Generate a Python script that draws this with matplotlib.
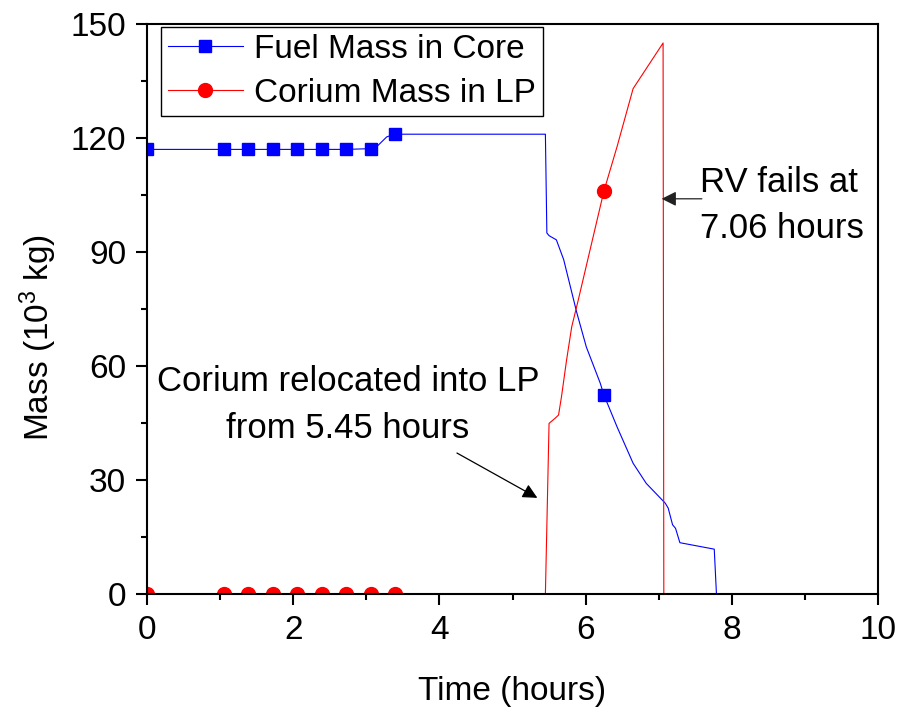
import numpy as np
import matplotlib
matplotlib.use("Agg")
import matplotlib.pyplot as plt
from matplotlib.ticker import MultipleLocator

# -----------------------------------------------------------------------------
# Data (time in hours, mass in 10^3 kg)
# -----------------------------------------------------------------------------

fuel_time = [0, 1.05, 1.38, 1.72, 2.05, 2.39, 2.72, 3.06, 3.12, 3.20, 3.28, 3.39,
             5.45, 5.47, 5.50, 5.60, 5.70, 5.88, 6.01, 6.20, 6.25, 6.43, 6.65,
             6.83, 7.09, 7.13, 7.19, 7.23, 7.29, 7.76, 7.79, 10]
fuel_mass = [117, 117, 117, 117, 117, 117, 117, 117.2, 117.3, 118.8, 120.3, 121,
             121, 95, 94.3, 93.2, 88, 74, 65, 55.5, 52.4, 44, 34.4,
             29.1, 23.9, 22.6, 18.2, 17.3, 13.5, 11.8, 0, 0]

corium_time = [0, 1.05, 1.38, 1.72, 2.05, 2.39, 2.72, 3.06, 3.39,
               5.45, 5.50, 5.58, 5.63, 5.67, 5.74, 5.81, 5.90, 6.25, 6.43,
               6.65, 7.06, 7.07, 10]
corium_mass = [0, 0, 0, 0, 0, 0, 0, 0, 0,
               0, 44.9, 46.2, 47.1, 51.9, 61.6, 70.3, 77.4, 106, 117.7,
               133, 145, 0, 0]

# Times where the symbols sit
fuel_marker_time = [0, 1.05, 1.38, 1.72, 2.05, 2.39, 2.72, 3.06, 3.39, 6.25]
corium_marker_time = [0, 1.05, 1.38, 1.72, 2.05, 2.39, 2.72, 3.06, 3.39, 6.25]

fuel_every = list(np.where(np.isin(fuel_time, fuel_marker_time))[0])
corium_every = list(np.where(np.isin(corium_time, corium_marker_time))[0])

# -----------------------------------------------------------------------------
# Figure
# -----------------------------------------------------------------------------

plt.rcParams["font.family"] = ["Liberation Sans", "DejaVu Sans"]
plt.rcParams["mathtext.fontset"] = "custom"
plt.rcParams["mathtext.rm"] = "Liberation Sans"
plt.rcParams["mathtext.it"] = "Liberation Sans"

fig = plt.figure(figsize=(9.13, 7.08), dpi=100)
ax = fig.add_axes([147 / 913, 114 / 708, 731 / 913, 570 / 708])

ax.plot(fuel_time, fuel_mass, color="#0000ff", lw=0.8, marker="s", ms=9,
        markevery=fuel_every, label="Fuel Mass in Core")
ax.plot(corium_time, corium_mass, color="#ff0000", lw=0.8, marker="o", ms=10,
        markevery=corium_every, label="Corium Mass in LP")

ax.set_xlim(0, 10)
ax.set_ylim(0, 150)
ax.xaxis.set_major_locator(MultipleLocator(2))
ax.xaxis.set_minor_locator(MultipleLocator(1))
ax.yaxis.set_major_locator(MultipleLocator(30))
ax.yaxis.set_minor_locator(MultipleLocator(15))
ax.tick_params(which="both", direction="out", width=1.5, top=False, right=False,
               labelsize=24)
ax.tick_params(which="major", length=8, pad=7)
ax.tick_params(which="minor", length=4)
for side in ax.spines.values():
    side.set_linewidth(1.5)

ax.set_xlabel("Time (hours)", fontsize=24, labelpad=22)
ax.set_ylabel("Mass (10$^{3}$ kg)", fontsize=24)
ax.yaxis.set_label_coords(-0.121, 0.45)

leg = ax.legend(loc="upper left", bbox_to_anchor=(14 / 731, 1 - 3 / 570),
                borderaxespad=0, fontsize=24, frameon=True, fancybox=False,
                edgecolor="black", framealpha=1, borderpad=0.2,
                labelspacing=0.4, handlelength=2.25, handletextpad=0.35)
leg.get_frame().set_linewidth(1.0)

# Annotations (va="baseline" pins the last line's baseline)
ax.annotate("", xy=(7.04, 104), xytext=(7.59, 104),
            arrowprops=dict(arrowstyle="-|>", color="#222222", lw=0.9,
                            mutation_scale=22, shrinkA=0, shrinkB=0))
ax.text(7.565, 93.7, "RV fails at\n7.06 hours", fontsize=25, ha="left",
        va="baseline", linespacing=1.5)

ax.annotate("", xy=(5.34, 25.3), xytext=(4.24, 37.1),
            arrowprops=dict(arrowstyle="-|>", color="black", lw=0.9,
                            mutation_scale=22, shrinkA=0, shrinkB=0))
ax.text(2.75, 41.0, "Corium relocated into LP\nfrom 5.45 hours", fontsize=25,
        ha="center", va="baseline", linespacing=1.55, multialignment="center")

fig.savefig("out.png", dpi=100)
